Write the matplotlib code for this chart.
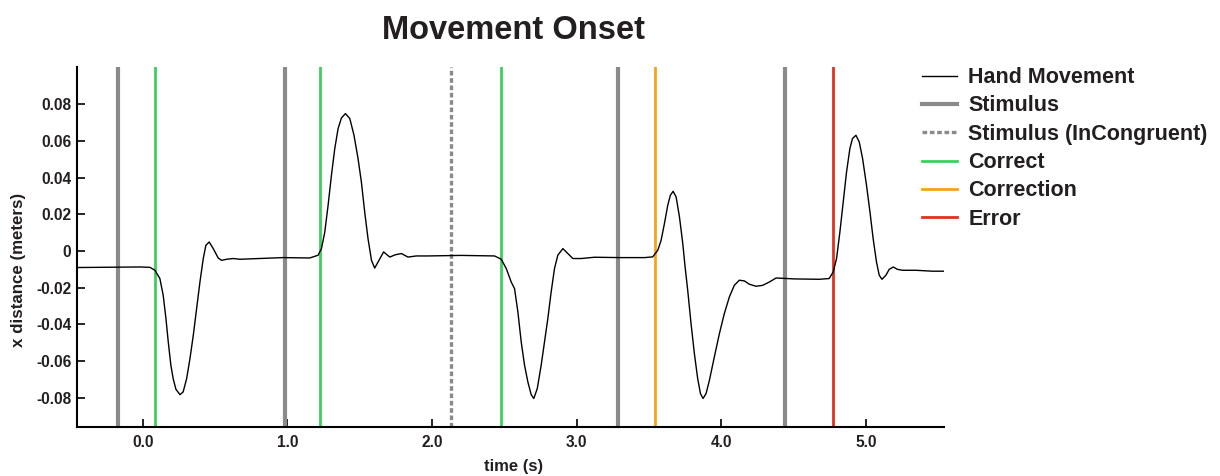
import matplotlib
matplotlib.use("Agg")
import matplotlib.pyplot as plt
from matplotlib.ticker import FuncFormatter

plt.rcParams['font.family'] = ['Liberation Sans', 'DejaVu Sans']

# hand movement trace (time s, x distance m)
hand_t = [-0.454, -0.019, 0.050, 0.085, 0.119, 0.142, 0.161, 0.177, 0.195, 0.211,
          0.230, 0.258, 0.280, 0.304, 0.327, 0.350, 0.373, 0.396, 0.419, 0.437,
          0.460, 0.488, 0.522, 0.546, 0.580, 0.626, 0.672, 0.971, 1.155, 1.213,
          1.236, 1.259, 1.282, 1.305, 1.328, 1.351, 1.374, 1.402, 1.432, 1.461,
          1.489, 1.512, 1.535, 1.558, 1.582, 1.604, 1.627, 1.666, 1.708, 1.749,
          1.789, 1.834, 1.892, 1.972, 2.200, 2.433, 2.479, 2.514, 2.548, 2.571,
          2.594, 2.617, 2.640, 2.663, 2.686, 2.704, 2.728, 2.755, 2.778, 2.801,
          2.824, 2.847, 2.870, 2.905, 2.939, 2.974, 3.032, 3.124, 3.300, 3.469,
          3.526, 3.561, 3.584, 3.607, 3.630, 3.648, 3.667, 3.688, 3.711, 3.734,
          3.750, 3.768, 3.791, 3.814, 3.837, 3.856, 3.874, 3.895, 3.918, 3.952,
          3.987, 4.021, 4.056, 4.090, 4.125, 4.160, 4.194, 4.240, 4.286, 4.332,
          4.379, 4.436, 4.505, 4.677, 4.746, 4.774, 4.797, 4.820, 4.843, 4.866,
          4.889, 4.907, 4.931, 4.954, 4.977, 5.004, 5.028, 5.050, 5.073, 5.092,
          5.111, 5.138, 5.161, 5.189, 5.218, 5.253, 5.345, 5.460, 5.540]
hand_x = [-0.0090, -0.0087, -0.0089, -0.0105, -0.0150, -0.0241, -0.0368, -0.0495, -0.0622, -0.0695,
          -0.0753, -0.0782, -0.0767, -0.0695, -0.0586, -0.0459, -0.0314, -0.0169, -0.0041, 0.0031,
          0.0049, 0.0013, -0.0038, -0.0051, -0.0045, -0.0041, -0.0045, -0.0036, -0.0038, -0.0023,
          0.0013, 0.0103, 0.0249, 0.0412, 0.0557, 0.0666, 0.0724, 0.0748, 0.0721, 0.0630,
          0.0503, 0.0376, 0.0212, 0.0067, -0.0051, -0.0093, -0.0060, -0.0005, -0.0033, -0.0020,
          -0.0014, -0.0033, -0.0027, -0.0027, -0.0024, -0.0027, -0.0045, -0.0096, -0.0169, -0.0205,
          -0.0332, -0.0495, -0.0622, -0.0713, -0.0782, -0.0803, -0.0749, -0.0622, -0.0495, -0.0368,
          -0.0223, -0.0096, -0.0023, 0.0013, -0.0014, -0.0041, -0.0041, -0.0034, -0.0036, -0.0036,
          -0.0032, 0.0004, 0.0058, 0.0149, 0.0249, 0.0303, 0.0325, 0.0294, 0.0185, 0.0040,
          -0.0087, -0.0214, -0.0395, -0.0558, -0.0695, -0.0776, -0.0803, -0.0776, -0.0704, -0.0577,
          -0.0450, -0.0341, -0.0250, -0.0187, -0.0159, -0.0163, -0.0181, -0.0192, -0.0187, -0.0169,
          -0.0147, -0.0149, -0.0152, -0.0154, -0.0150, -0.0114, -0.0041, 0.0103, 0.0267, 0.0430,
          0.0557, 0.0612, 0.0630, 0.0593, 0.0503, 0.0358, 0.0212, 0.0067, -0.0060, -0.0132,
          -0.0154, -0.0132, -0.0100, -0.0087, -0.0100, -0.0105, -0.0105, -0.0110, -0.0110]

# event markers (s)
stimulus_t = [-0.17, 0.985, 3.285, 4.438]
incongruent_t = [2.135]
correct_t = [0.085, 1.225, 2.476]
correction_t = [3.54]
error_t = [4.769]

x_ticks = [0.0, 1.0, 2.0, 3.0, 4.0, 5.0]
y_ticks = [-0.08, -0.06, -0.04, -0.02, 0.0, 0.02, 0.04, 0.06, 0.08]

txt_col = '#231f20'

fig = plt.figure(figsize=(12.2, 4.76), dpi=100)
ax = fig.add_axes([0.0631, 0.103, 0.7107, 0.756])

ax.plot(hand_t, hand_x, color='black', lw=1.0, label='Hand Movement',
        solid_joinstyle='round', zorder=5)
for i, t in enumerate(stimulus_t):
    ax.axvline(t, color='#8a8a8a', lw=3.0, label='Stimulus' if i == 0 else None)
for i, t in enumerate(incongruent_t):
    ax.axvline(t, color='#8a8a8a', lw=2.4, ls=(0, (1.4, 0.8)),
               label='Stimulus (InCongruent)' if i == 0 else None)
for i, t in enumerate(correct_t):
    ax.axvline(t, color='#3ccf5e', lw=2.0, label='Correct' if i == 0 else None)
for i, t in enumerate(correction_t):
    ax.axvline(t, color='#f7a21b', lw=2.0, label='Correction' if i == 0 else None)
for i, t in enumerate(error_t):
    ax.axvline(t, color='#e0321c', lw=2.0, label='Error' if i == 0 else None)

ax.set_xlim(-0.454, 5.54)
ax.set_ylim(-0.0958, 0.1001)
ax.set_xticks(x_ticks)
ax.set_yticks(y_ticks)
ax.xaxis.set_major_formatter(FuncFormatter(lambda v, p: '%.1f' % v))
ax.yaxis.set_major_formatter(FuncFormatter(
    lambda v, p: '0' if abs(v) < 1e-9 else '%.2f' % v))
ax.tick_params(direction='in', length=6, width=1.2, labelsize=11.2)
ax.tick_params(axis='y', pad=4)
ax.tick_params(axis='x', pad=6)
for lab in ax.get_xticklabels() + ax.get_yticklabels():
    lab.set_fontweight('bold')
    lab.set_color(txt_col)

for s in ['top', 'right']:
    ax.spines[s].set_visible(False)
for s in ['left', 'bottom']:
    ax.spines[s].set_linewidth(1.5)

ax.set_xlabel('time (s)', fontsize=12, fontweight='bold', color=txt_col)
ax.set_ylabel('x distance (meters)', fontsize=12.2, fontweight='bold', color=txt_col)
ax.xaxis.set_label_coords(0.503, -0.110)
ax.xaxis.label.set_va('center')
ax.yaxis.set_label_coords(-0.068, 0.4375)
ax.yaxis.label.set_va('center')

fig.text(0.4205, 0.935, 'Movement Onset', ha='center', va='center',
         fontsize=23.5, fontweight='bold', color=txt_col)

leg = ax.legend(loc='upper left', bbox_to_anchor=(0.7557, 0.859),
                bbox_transform=fig.transFigure, frameon=False,
                borderpad=0, borderaxespad=0,
                prop={'size': 15.5, 'weight': 'bold'}, handlelength=1.65,
                handletextpad=0.5, labelspacing=0.34)
for txt in leg.get_texts():
    txt.set_color(txt_col)

fig.savefig('out.png', dpi=100)
